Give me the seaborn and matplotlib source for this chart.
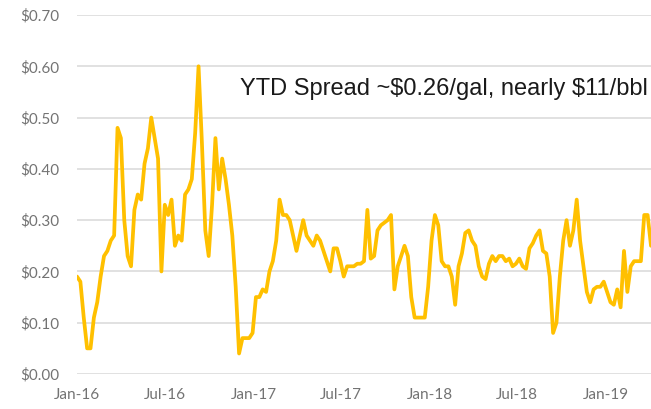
import pandas as pd
import numpy as np
import matplotlib
matplotlib.use("Agg")
import matplotlib.pyplot as plt
import matplotlib.dates as mdates
import matplotlib.ticker as mticker
import seaborn as sns

# Weekly spread values ($/gal), starting first week of Jan 2016
start_date = "2016-01-01"
spread = [
    0.19, 0.18, 0.11, 0.05, 0.05, 0.11, 0.14, 0.19, 0.23, 0.24,
    0.26, 0.27, 0.48, 0.46, 0.30, 0.23, 0.21, 0.32, 0.35, 0.34,
    0.41, 0.44, 0.50, 0.46, 0.42, 0.20, 0.33, 0.31, 0.34, 0.25,
    0.27, 0.26, 0.35, 0.36, 0.38, 0.47, 0.60, 0.45, 0.28, 0.23,
    0.33, 0.46, 0.36, 0.42, 0.38, 0.33, 0.27, 0.17, 0.04, 0.07,
    0.07, 0.07, 0.08, 0.15, 0.15, 0.165, 0.16, 0.20, 0.22, 0.26,
    0.34, 0.31, 0.31, 0.30, 0.27, 0.24, 0.27, 0.30, 0.27, 0.26,
    0.25, 0.27, 0.26, 0.24, 0.22, 0.20, 0.245, 0.245, 0.22, 0.19,
    0.21, 0.21, 0.21, 0.215, 0.215, 0.22, 0.32, 0.225, 0.23, 0.28,
    0.29, 0.295, 0.30, 0.31, 0.165, 0.21, 0.23, 0.25, 0.23, 0.15,
    0.11, 0.11, 0.11, 0.11, 0.17, 0.26, 0.31, 0.29, 0.22, 0.21,
    0.21, 0.19, 0.135, 0.21, 0.235, 0.275, 0.28, 0.26, 0.25, 0.21,
    0.19, 0.185, 0.215, 0.23, 0.22, 0.23, 0.23, 0.22, 0.225, 0.21,
    0.215, 0.225, 0.21, 0.205, 0.245, 0.255, 0.27, 0.28, 0.24, 0.235,
    0.19, 0.08, 0.10, 0.19, 0.26, 0.30, 0.25, 0.28, 0.34, 0.26,
    0.21, 0.16, 0.14, 0.165, 0.17, 0.17, 0.18, 0.16, 0.14, 0.135,
    0.165, 0.13, 0.24, 0.16, 0.21, 0.22, 0.22, 0.22, 0.31, 0.31,
    0.25,
]
annotation = "YTD Spread ~$0.26/gal, nearly $11/bbl"

dates = pd.date_range(start_date, periods=len(spread), freq="7D")
df = pd.DataFrame({"date": dates, "spread": spread})

sns.set_theme(style="white")
plt.rcParams["font.family"] = ["Lato", "DejaVu Sans"]

W, H = 651, 409
fig = plt.figure(figsize=(W / 100, H / 100), dpi=100)
ax = fig.add_axes([77 / W, 1 - 374 / H, (W - 77) / W, (374 - 15) / H])

sns.lineplot(data=df, x="date", y="spread", ax=ax, color="#FFC000",
             linewidth=2.7, zorder=3)

ax.set_ylim(0, 0.70)
ax.set_xlim(pd.Timestamp("2016-01-01"), pd.Timestamp("2019-04-05"))
ax.yaxis.set_major_locator(mticker.MultipleLocator(0.10))
ax.yaxis.set_major_formatter(mticker.FuncFormatter(lambda v, p: f"${v:.2f}"))
ax.xaxis.set_major_locator(mdates.MonthLocator(bymonth=[1, 7]))
ax.xaxis.set_major_formatter(mdates.DateFormatter("%b-%y"))

ax.grid(axis="y", color="#d9d9d9", linewidth=1.1)
ax.grid(axis="x", visible=False)
for s in ax.spines.values():
    s.set_visible(False)
ax.tick_params(axis="both", length=0, labelsize=11, labelcolor="#737373")
ax.tick_params(axis="y", pad=13)
ax.tick_params(axis="x", pad=10)
ax.set_xlabel("")
ax.set_ylabel("")

ax.text((240 - 77) / (W - 77), (374 - 89) / (374 - 15), annotation,
        transform=ax.transAxes, parse_math=False,
        fontsize=17, family=["Liberation Sans", "DejaVu Sans"], color="#1a1a1a",
        va="center", ha="left")

fig.savefig("out.png", dpi=100)
